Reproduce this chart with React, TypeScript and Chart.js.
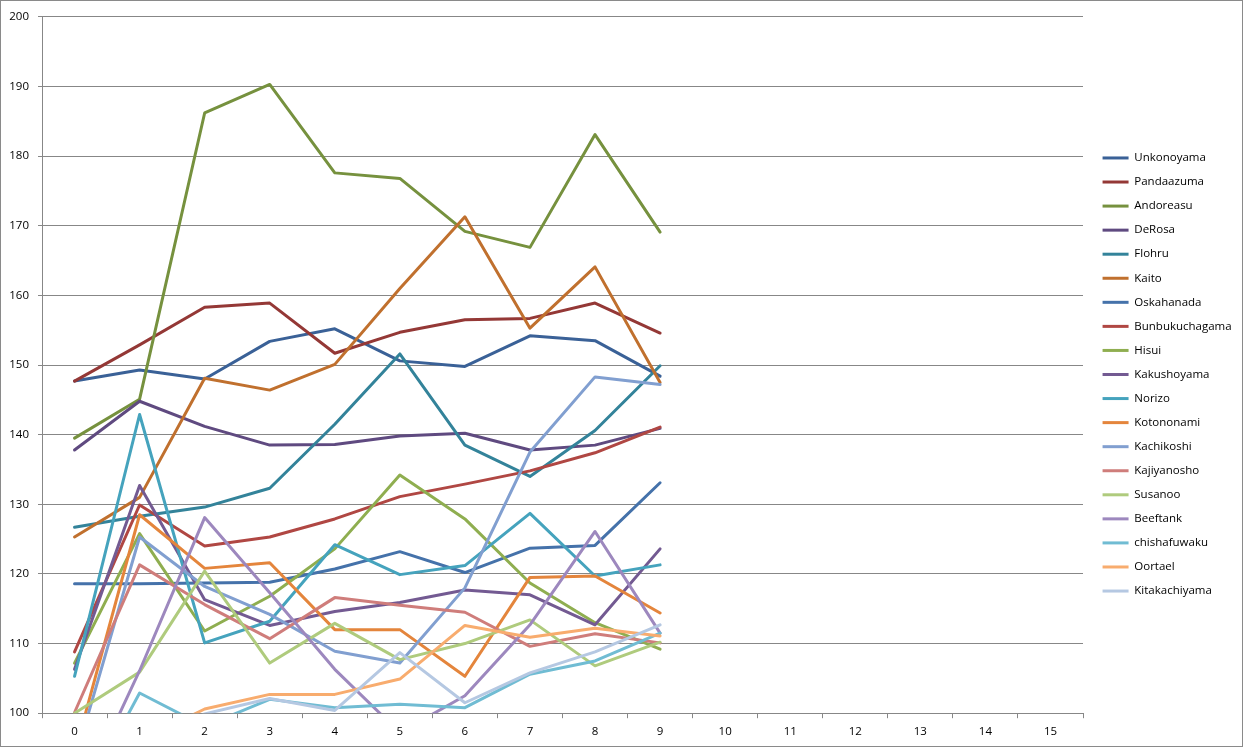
import { useEffect, useRef } from 'react';
import { Chart, registerables } from 'chart.js';

Chart.register(...registerables);

const categories = ['0', '1', '2', '3', '4', '5', '6', '7', '8', '9', '10', '11', '12', '13', '14', '15'];

const seriesNames = [
  'Unkonoyama', 'Pandaazuma', 'Andoreasu', 'DeRosa', 'Flohru', 'Kaito',
  'Oskahanada', 'Bunbukuchagama', 'Hisui', 'Kakushoyama', 'Norizo', 'Kotononami',
  'Kachikoshi', 'Kajiyanosho', 'Susanoo', 'Beeftank', 'chishafuwaku', 'Oortael',
  'Kitakachiyama',
];

const unkonoyama = [147.7, 149.3, 148.0, 153.4, 155.2, 150.6, 149.8, 154.2, 153.5, 148.4];
const pandaazuma = [147.7, 152.9, 158.3, 158.9, 151.7, 154.7, 156.5, 156.7, 158.9, 154.6];
const andoreasu = [139.5, 145.1, 186.2, 190.3, 177.6, 176.8, 169.2, 166.9, 183.1, 169.1];
const deRosa = [137.8, 144.8, 141.2, 138.5, 138.6, 139.8, 140.2, 137.8, 138.5, 140.9];
const flohru = [126.7, 128.3, 129.6, 132.3, 141.5, 151.6, 138.5, 134.0, 140.6, 149.9];
const kaito = [125.3, 131.0, 148.1, 146.4, 150.1, 161.0, 171.3, 155.3, 164.1, 147.5];
const oskahanada = [118.6, 118.6, 118.7, 118.8, 120.7, 123.2, 120.2, 123.7, 124.1, 133.1];
const bunbukuchagama = [108.8, 129.9, 124.0, 125.3, 127.9, 131.1, 132.9, 134.8, 137.4, 141.1];
const hisui = [107.2, 125.8, 111.8, 116.8, 123.6, 134.2, 127.9, 118.7, 113.0, 109.2];
const kakushoyama = [106.3, 132.7, 116.3, 112.6, 114.6, 115.9, 117.7, 117.0, 112.7, 123.6];
const norizo = [105.3, 142.9, 110.1, 113.2, 124.2, 119.9, 121.2, 128.7, 119.7, 121.3];
const kotononami = [94.2, 128.5, 120.8, 121.6, 112.0, 112.0, 105.3, 119.5, 119.7, 114.4];
const kachikoshi = [93.1, 125.3, 118.2, 114.2, 108.9, 107.2, 118.0, 137.5, 148.3, 147.2];
const kajiyanosho = [100.1, 121.3, 115.6, 110.7, 116.6, 115.5, 114.5, 109.6, 111.4, 110.1];
const susanoo = [100.0, 105.9, 120.4, 107.2, 112.9, 107.7, 110.0, 113.4, 106.8, 110.2];
const beeftank = [86.1, 106.1, 128.1, 117.3, 106.3, 97.2, 102.5, 112.7, 126.1, 111.5];
const chishafuwaku = [85.5, 102.9, 98.1, 102.0, 100.8, 101.3, 100.8, 105.6, 107.5, 111.5];
const oortael = [93.0, 96.0, 100.6, 102.7, 102.7, 104.9, 112.6, 110.9, 112.2, 111.1];
const kitakachiyama = [90.0, 95.0, 99.9, 102.1, 100.4, 108.7, 101.5, 105.8, 108.8, 112.7];

const seriesValues = [
  unkonoyama, pandaazuma, andoreasu, deRosa, flohru, kaito,
  oskahanada, bunbukuchagama, hisui, kakushoyama, norizo, kotononami,
  kachikoshi, kajiyanosho, susanoo, beeftank, chishafuwaku, oortael,
  kitakachiyama,
];

const seriesColors = [
  '#3A6197', '#943836', '#76913E', '#5F4A80', '#33839A', '#C0702E',
  '#4572AA', '#B04743', '#8FAE50', '#735A92', '#45A3BD', '#E4853C',
  '#819FD0', '#CF7D7B', '#AFCB7D', '#9D88BE', '#70BCD3', '#F8AC6E',
  '#B5C8E2',
];

const yMin = 100;
const yMax = 200;
const yStep = 10;

const FONT_FAMILY = "'Open Sans', 'DejaVu Sans', sans-serif";
const AXIS_COLOR = '#878787';
const LEGEND_SHIFT_X = 7;
const LEGEND_SHIFT_Y = -6;

const legendShift = {
  id: 'legendShift',
  afterLayout(chart: any) {
    const l = chart.legend;
    if (!l) return;
    l.left += LEGEND_SHIFT_X;
    l.right += LEGEND_SHIFT_X;
    l.top += LEGEND_SHIFT_Y;
    l.bottom += LEGEND_SHIFT_Y;
  },
};

export default function App() {
  const canvasRef = useRef<HTMLCanvasElement>(null);

  useEffect(() => {
    document.body.style.margin = '0';
    const canvas = canvasRef.current;
    if (!canvas) return;
    const n = seriesNames.length;
    const chart = new Chart(canvas, {
      type: 'line',
      data: {
        labels: categories,
        datasets: seriesNames.map((name, i) => ({
          label: name,
          data: seriesValues[i],
          borderColor: seriesColors[i],
          backgroundColor: seriesColors[i],
          borderWidth: 3,
          pointRadius: 0,
          pointHoverRadius: 0,
          tension: 0,
          fill: false,
          borderJoinStyle: 'round',
          borderCapStyle: 'round',
          order: n - i,
        })),
      },
      options: {
        responsive: false,
        animation: false,
        events: [],
        layout: { padding: { top: 14, bottom: 0, left: 0, right: 13 } },
        plugins: {
          legend: {
            position: 'right',
            maxWidth: 146,
            labels: {
              usePointStyle: true,
              pointStyle: 'line',
              pointStyleWidth: 26,
              padding: 12.56,
              color: '#000',
              font: { family: FONT_FAMILY, size: 11.5 },
              sort: (a: any, b: any) => a.datasetIndex - b.datasetIndex,
            },
          },
          tooltip: { enabled: false },
        },
        scales: {
          x: {
            type: 'category',
            offset: true,
            grid: {
              offset: true,
              drawOnChartArea: false,
              drawTicks: true,
              tickLength: 5,
              color: AXIS_COLOR,
            },
            border: { color: AXIS_COLOR },
            ticks: {
              padding: 7,
              color: '#000',
              font: { family: FONT_FAMILY, size: 11.5 },
              maxRotation: 0,
              autoSkip: false,
            },
          },
          y: {
            min: yMin,
            max: yMax,
            ticks: {
              stepSize: yStep,
              padding: 9,
              color: '#000',
              font: { family: FONT_FAMILY, size: 11.5 },
            },
            grid: { color: AXIS_COLOR, tickLength: 4 },
            border: { color: AXIS_COLOR },
            afterFit: (scale: any) => {
              scale.width = 41;
            },
          },
        },
      },
      plugins: [legendShift],
    } as any);
    return () => chart.destroy();
  }, []);

  return (
    <div
      style={{
        position: 'absolute',
        left: 0,
        top: 0,
        width: 1243,
        height: 747,
        boxSizing: 'border-box',
        border: '1px solid #8a8a8a',
        background: '#fff',
      }}
    >
      <canvas ref={canvasRef} width={1241} height={745} style={{ display: 'block' }} />
    </div>
  );
}
